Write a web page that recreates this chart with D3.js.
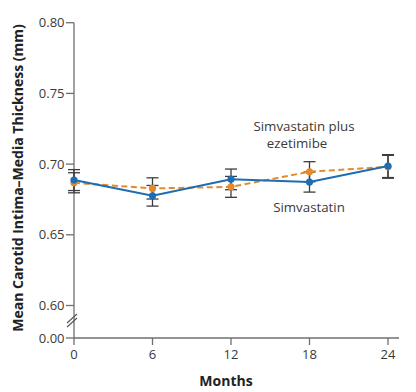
<!DOCTYPE html>
<html><head><meta charset="utf-8">
<script src="https://cdn.jsdelivr.net/npm/d3@7"></script>
<style>body{margin:0;background:#fff}svg{display:block}text{font-family:"Open Sans",sans-serif}</style>
</head><body>
<script>
const months = [0, 6, 12, 18, 24];
const xTicks = [0, 6, 12, 18, 24];
const yTicks = [0.00, 0.60, 0.65, 0.70, 0.75, 0.80];
const simva = [0.6887, 0.6776, 0.6892, 0.6873, 0.6986];
const simvaErr = [0.0074, 0.0073, 0.0073, 0.0071, 0.0081];
const simvaEze = [0.6868, 0.6828, 0.6839, 0.6946, 0.6981];
const simvaEzeErr = [0.0071, 0.0075, 0.0074, 0.0071, 0.0081];

const W = 416, H = 392;
const svg = d3.select("body").append("svg").attr("width", W).attr("height", H);
const x = d3.scaleLinear().domain([0, 24]).range([74, 388]);
const y = d3.scaleLinear().domain([0, 0.6, 0.8]).range([338, 305.5, 22.7]);
const axisCol = "#6f6f6f", textCol = "#3a3a3a";
const blue = "#1c6db1", orange = "#e38a2c", errCol = "#3d3d3d";

// y axis
svg.append("line").attr("x1", 74).attr("x2", 74).attr("y1", y(0.8)).attr("y2", 338)
  .attr("stroke", axisCol).attr("stroke-width", 1.3);
svg.selectAll(".yt").data(yTicks).enter().append("line")
  .attr("x1", 66).attr("x2", 74).attr("y1", d => y(d)).attr("y2", d => y(d))
  .attr("stroke", axisCol).attr("stroke-width", 1.3);
svg.selectAll(".yl").data(yTicks).enter().append("text")
  .attr("x", 64.5).attr("y", d => y(d)).attr("dy", "0.35em").attr("text-anchor", "end")
  .attr("font-size", 13).attr("fill", textCol).text(d => d3.format(".2f")(d));
// axis break marks
[0, 4].forEach(o => {
  svg.append("line").attr("x1", 67).attr("y1", 327 - o).attr("x2", 77).attr("y2", 318 - o)
    .attr("stroke", "#555").attr("stroke-width", 1.1);
});
// x axis
svg.append("line").attr("x1", 74).attr("x2", 399).attr("y1", 338).attr("y2", 338)
  .attr("stroke", axisCol).attr("stroke-width", 1.3);
svg.selectAll(".xt").data(xTicks).enter().append("line")
  .attr("x1", d => x(d)).attr("x2", d => x(d)).attr("y1", 338).attr("y2", 345)
  .attr("stroke", axisCol).attr("stroke-width", 1.3);
svg.selectAll(".xl").data(xTicks).enter().append("text")
  .attr("x", d => x(d)).attr("y", 359).attr("text-anchor", "middle")
  .attr("font-size", 13).attr("fill", textCol).text(d => d);

// axis titles
svg.append("text").attr("x", 226).attr("y", 386).attr("text-anchor", "middle")
  .attr("font-size", 14).attr("font-weight", "bold").attr("fill", "#222").text("Months");
svg.append("text").attr("transform", "translate(23,178) rotate(-90)").attr("text-anchor", "middle")
  .attr("font-size", 14).attr("font-weight", "bold").attr("fill", "#222")
  .text("Mean Carotid Intima\u2013Media Thickness (mm)");

// error bars
function errBars(vals, errs) {
  const g = svg.append("g").attr("stroke", errCol).attr("stroke-width", 1.3);
  months.forEach((m, i) => {
    const cx = x(m), t = y(vals[i] + errs[i]), b = y(vals[i] - errs[i]);
    g.append("line").attr("x1", cx).attr("x2", cx).attr("y1", t).attr("y2", b);
    g.append("line").attr("x1", cx - 6).attr("x2", cx + 6).attr("y1", t).attr("y2", t);
    g.append("line").attr("x1", cx - 6).attr("x2", cx + 6).attr("y1", b).attr("y2", b);
  });
}
errBars(simvaEze, simvaEzeErr);
errBars(simva, simvaErr);

const line = d3.line().x((d, i) => x(months[i])).y(d => y(d));
svg.append("path").datum(simvaEze).attr("d", line).attr("fill", "none")
  .attr("stroke", orange).attr("stroke-width", 2).attr("stroke-dasharray", "6,3.5");
svg.selectAll(".po").data(simvaEze).enter().append("circle")
  .attr("cx", (d, i) => x(months[i])).attr("cy", d => y(d)).attr("r", 3.6).attr("fill", orange);
svg.append("path").datum(simva).attr("d", line).attr("fill", "none")
  .attr("stroke", blue).attr("stroke-width", 2);
svg.selectAll(".pb").data(simva).enter().append("circle")
  .attr("cx", (d, i) => x(months[i])).attr("cy", d => y(d)).attr("r", 3.6).attr("fill", blue);

// labels
svg.append("text").attr("x", 304).attr("y", 131).attr("text-anchor", "middle")
  .attr("font-size", 13.3).attr("fill", textCol).text("Simvastatin plus");
svg.append("text").attr("x", 297).attr("y", 148).attr("text-anchor", "middle")
  .attr("font-size", 13.3).attr("fill", textCol).text("ezetimibe");
svg.append("text").attr("x", 309).attr("y", 212).attr("text-anchor", "middle")
  .attr("font-size", 13.3).attr("fill", textCol).text("Simvastatin");
</script>
</body></html>
